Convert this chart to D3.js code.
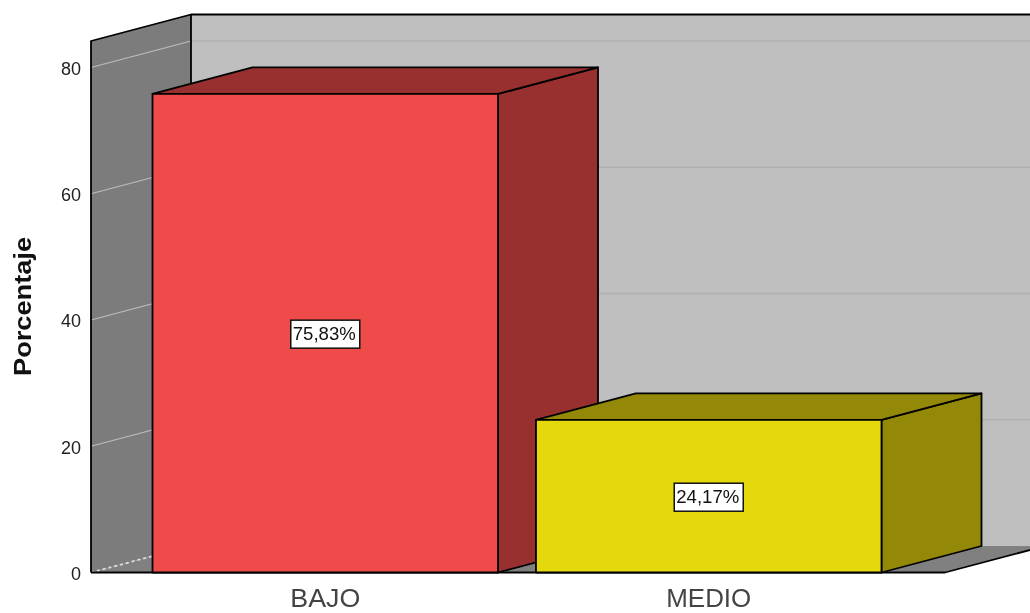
<!DOCTYPE html>
<html>
<head>
<meta charset="utf-8">
<script src="https://cdn.jsdelivr.net/npm/d3@7"></script>
<style>
  html, body { margin: 0; padding: 0; background: #fff; overflow: hidden; }
  svg { display: block; font-family: "Liberation Sans", Arial, sans-serif; filter: blur(0.45px); }
  .outline { stroke: #000; stroke-width: 1.8; stroke-linejoin: round; }
</style>
</head>
<body>
<div id="chart"></div>
<script>
// Values
var categorias = ["BAJO", "MEDIO"];
var porcentajes = [75.83, 24.17];
var etiquetas = ["75,83%", "24,17%"];
var marcasY = [0, 20, 40, 60, 80];
var maxEjeY = 84.2;
var coloresFrente = ["#EF4B4B", "#E5D90E"];
var coloresLado = ["#97302F", "#938808"];

var width = 1030, height = 613;
var margin = {top: 41, right: 85, bottom: 40.5, left: 91};

// The 3D depth offset of the whole chart
var dx = 100, dy = -26.5;

// bars sit slightly left of centre on the floor
var x = d3.scaleBand()
    .domain(categorias)
    .range([margin.left, width - margin.right - 2])
    .paddingInner(0.099)
    .paddingOuter(0.1604);

var y = d3.scaleLinear()
    .domain([0, maxEjeY])
    .range([height - margin.bottom, margin.top]);

var svg = d3.select("#chart").append("svg")
    .attr("width", width)
    .attr("height", height);

var line = d3.line();
var x0 = margin.left, x1 = width - margin.right;

// Walls and floor
function poly(points, fill) {
    return svg.append("path")
        .attr("d", line(points) + "Z")
        .attr("fill", fill);
}

poly([[x0 + dx, y(maxEjeY) + dy], [x1 + dx, y(maxEjeY) + dy], [x1 + dx, y(0) + dy], [x0 + dx, y(0) + dy]], "#BFBFBF");
poly([[x0, y(maxEjeY)], [x0 + dx, y(maxEjeY) + dy], [x0 + dx, y(0) + dy], [x0, y(0)]], "#7C7C7C");
poly([[x0, y(0)], [x1, y(0)], [x1 + dx, y(0) + dy], [x0 + dx, y(0) + dy]], "#808080");

// Gridlines on both walls
var gridValues = marcasY.slice(1);
svg.selectAll(".grid-back")
    .data(gridValues)
    .enter().append("line")
    .attr("class", "grid-back")
    .attr("x1", x0 + dx).attr("x2", x1 + dx)
    .attr("y1", function(d) { return y(d) + dy; })
    .attr("y2", function(d) { return y(d) + dy; })
    .attr("stroke", "#B0B0B0")
    .attr("stroke-width", 1.5);

svg.selectAll(".grid-side")
    .data(gridValues)
    .enter().append("line")
    .attr("class", "grid-side")
    .attr("x1", x0).attr("x2", x0 + dx)
    .attr("y1", function(d) { return y(d); })
    .attr("y2", function(d) { return y(d) + dy; })
    .attr("stroke", "#BDBDBD")
    .attr("stroke-width", 1.2);

// Dotted edge between side wall and floor
svg.append("line")
    .attr("x1", x0).attr("x2", x0 + dx)
    .attr("y1", y(0)).attr("y2", y(0) + dy)
    .attr("stroke", "#DDD")
    .attr("stroke-width", 1.8)
    .attr("stroke-dasharray", "3 3");

// Wall outlines
svg.append("path")
    .attr("class", "outline")
    .attr("fill", "none")
    .attr("d", line([[x0, y(0)], [x0, y(maxEjeY)], [x0 + dx, y(maxEjeY) + dy], [x1 + dx, y(maxEjeY) + dy]]));
svg.append("path")
    .attr("class", "outline")
    .attr("fill", "none")
    .attr("d", line([[x0 + dx, y(maxEjeY) + dy], [x0 + dx, y(0) + dy]]));
svg.append("path")
    .attr("class", "outline")
    .attr("fill", "none")
    .attr("d", line([[x0, y(0)], [x1, y(0)], [x1 + dx, y(0) + dy]]));

// Bars: side, top and front faces
var bars = svg.selectAll(".bar")
    .data(categorias)
    .enter().append("g")
    .attr("class", "bar");

bars.append("path")
    .attr("class", "outline")
    .attr("fill", function(d, i) { return coloresLado[i]; })
    .attr("d", function(d, i) {
        var r = x(d) + x.bandwidth(), t = y(porcentajes[i]), b = y(0);
        return line([[r, t], [r + dx, t + dy], [r + dx, b + dy], [r, b]]) + "Z";
    });

bars.append("path")
    .attr("class", "outline")
    .attr("fill", function(d, i) { return coloresLado[i]; })
    .attr("d", function(d, i) {
        var l = x(d), r = l + x.bandwidth(), t = y(porcentajes[i]);
        return line([[l, t], [l + dx, t + dy], [r + dx, t + dy], [r, t]]) + "Z";
    });

bars.append("rect")
    .attr("class", "outline")
    .attr("x", function(d) { return x(d); })
    .attr("y", function(d, i) { return y(porcentajes[i]); })
    .attr("width", x.bandwidth())
    .attr("height", function(d, i) { return y(0) - y(porcentajes[i]); })
    .attr("fill", function(d, i) { return coloresFrente[i]; });

// Value labels
bars.append("rect")
    .attr("x", function(d) { return x(d) + x.bandwidth() / 2 - 34.5; })
    .attr("y", function(d, i) { return y(porcentajes[i] / 2) - 13; })
    .attr("width", 69)
    .attr("height", 28)
    .attr("fill", "#fff")
    .attr("stroke", "#111")
    .attr("stroke-width", 1.5);

bars.append("text")
    .attr("x", function(d) { return x(d) + x.bandwidth() / 2 - 1; })
    .attr("y", function(d, i) { return y(porcentajes[i] / 2) + 7; })
    .attr("text-anchor", "middle")
    .attr("font-size", 18)
    .attr("textLength", 63)
    .attr("lengthAdjust", "spacingAndGlyphs")
    .attr("fill", "#111")
    .text(function(d, i) { return etiquetas[i]; });

// Axes
var yAxis = d3.axisLeft(y).tickValues(marcasY).tickSize(0).tickPadding(10);
var gy = svg.append("g")
    .attr("transform", "translate(" + x0 + ",0)")
    .call(yAxis);
gy.select(".domain").remove();
gy.selectAll("text")
    .attr("y", 1)
    .attr("font-size", 18)
    .attr("font-family", "Liberation Sans")
    .attr("fill", "#222");

var xAxis = d3.axisBottom(x).tickSize(0).tickPadding(17);
var gx = svg.append("g")
    .attr("transform", "translate(0," + y(0) + ")")
    .call(xAxis);
gx.select(".domain").remove();
gx.selectAll("text")
    .attr("font-size", 25)
    .attr("font-family", "Liberation Sans")
    .attr("textLength", function(d) { return d == "BAJO" ? 70 : 85; })
    .attr("lengthAdjust", "spacingAndGlyphs")
    .attr("fill", "#444");

svg.append("text")
    .attr("transform", "translate(31,306.5) rotate(-90)")
    .attr("text-anchor", "middle")
    .attr("font-size", 23)
    .attr("font-weight", "bold")
    .attr("textLength", 139)
    .attr("lengthAdjust", "spacingAndGlyphs")
    .attr("fill", "#111")
    .text("Porcentaje");
</script>
</body>
</html>
